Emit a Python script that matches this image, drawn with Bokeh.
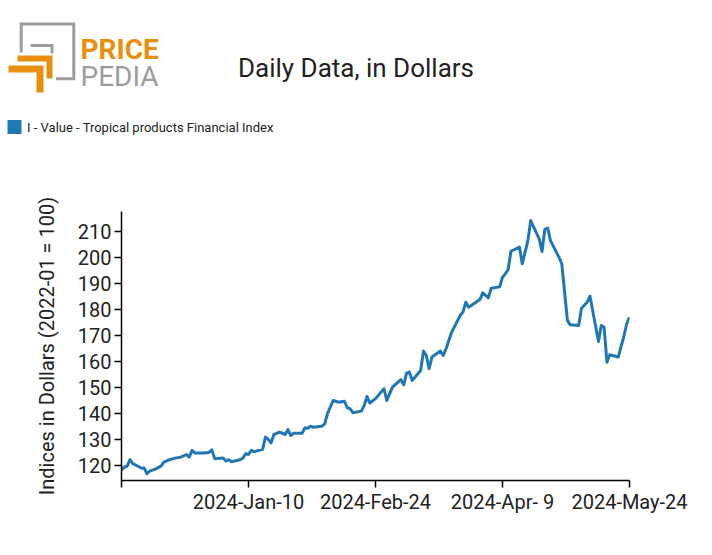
import pandas as pd
from bokeh.plotting import figure
from bokeh.layouts import column
from bokeh.models import Range1d, FixedTicker
from bokeh.core.properties import value
from bokeh.embed import file_html
from bokeh.resources import INLINE

# ---------------- data ----------------
dates = [
    "2023-11-26", "2023-11-27", "2023-11-28", "2023-11-29", "2023-11-30", "2023-12-02",
    "2023-12-03", "2023-12-04", "2023-12-05", "2023-12-06", "2023-12-08", "2023-12-10",
    "2023-12-11", "2023-12-13", "2023-12-15", "2023-12-17", "2023-12-19", "2023-12-20",
    "2023-12-21", "2023-12-22", "2023-12-25", "2023-12-27", "2023-12-28", "2023-12-29",
    "2024-01-01", "2024-01-02", "2024-01-03", "2024-01-04", "2024-01-07", "2024-01-08",
    "2024-01-09", "2024-01-10", "2024-01-11", "2024-01-12", "2024-01-15", "2024-01-16",
    "2024-01-17", "2024-01-18", "2024-01-19", "2024-01-21", "2024-01-23", "2024-01-24",
    "2024-01-25", "2024-01-26", "2024-01-29", "2024-01-30", "2024-01-31", "2024-02-01",
    "2024-02-02", "2024-02-05", "2024-02-06", "2024-02-07", "2024-02-09", "2024-02-11",
    "2024-02-13", "2024-02-14", "2024-02-15", "2024-02-16", "2024-02-19", "2024-02-20",
    "2024-02-21", "2024-02-22", "2024-02-24", "2024-02-27", "2024-02-28", "2024-03-01",
    "2024-03-04", "2024-03-05", "2024-03-06", "2024-03-07", "2024-03-08", "2024-03-11",
    "2024-03-12", "2024-03-13", "2024-03-14", "2024-03-15", "2024-03-18", "2024-03-19",
    "2024-03-20", "2024-03-22", "2024-03-25", "2024-03-26", "2024-03-27", "2024-03-28",
    "2024-04-01", "2024-04-02", "2024-04-04", "2024-04-05", "2024-04-08", "2024-04-09",
    "2024-04-10", "2024-04-11", "2024-04-12", "2024-04-15", "2024-04-16", "2024-04-18",
    "2024-04-19", "2024-04-22", "2024-04-23", "2024-04-24", "2024-04-25", "2024-04-26",
    "2024-04-29", "2024-04-30", "2024-05-02", "2024-05-03", "2024-05-06", "2024-05-07",
    "2024-05-09", "2024-05-10", "2024-05-13", "2024-05-14", "2024-05-15", "2024-05-16",
    "2024-05-17", "2024-05-20", "2024-05-22", "2024-05-23", "2024-05-24",
]
index_values = [
    118.1, 119.4, 119.7, 122.2, 120.7, 119.6,
    119.0, 119.0, 116.8, 117.8, 118.6, 119.7,
    121.3, 122.2, 122.8, 123.2, 124.2, 123.2,
    125.8, 124.8, 124.8, 125.0, 126.0, 122.6,
    122.9, 121.7, 122.2, 121.4, 122.2, 122.8,
    124.5, 124.2, 125.8, 125.3, 126.2, 130.9,
    130.0, 128.7, 131.9, 132.8, 131.9, 133.8,
    131.5, 132.4, 132.4, 134.5, 134.3, 135.1,
    134.7, 135.1, 136.0, 139.9, 145.0, 144.3,
    144.7, 142.2, 141.8, 140.3, 140.9, 143.1,
    146.5, 144.0, 145.7, 149.5, 145.0, 150.1,
    153.0, 151.0, 155.5, 155.9, 152.7, 156.5,
    164.0, 162.3, 157.2, 161.7, 164.0, 162.3,
    164.9, 171.3, 177.7, 179.0, 182.8, 180.9,
    183.8, 186.4, 184.5, 188.2, 188.7, 192.4,
    193.7, 195.4, 202.4, 204.0, 197.6, 206.5,
    214.2, 207.2, 202.3, 210.8, 211.3, 206.5,
    200.1, 197.6, 175.8, 174.1, 173.8, 180.5,
    182.8, 185.1, 167.7, 173.8, 173.2, 159.7,
    162.6, 161.7, 169.6, 174.5, 177.0,
]
series_name = "I - Value - Tropical products Financial Index"
title_text = "Daily Data, in Dollars"
y_axis_title = "Indices in Dollars (2022-01 = 100)"
tick_dates = ["2023-11-26", "2024-01-10", "2024-02-24", "2024-04-09", "2024-05-24"]
tick_labels = ["", "2024-Jan-10", "2024-Feb-24", "2024-Apr- 9", "2024-May-24"]
y_ticks = [120, 130, 140, 150, 160, 170, 180, 190, 200, 210]

# ---------------- styles ----------------
FONT = "Roboto"
LINE_COLOR = "#1f77b4"
ORANGE = "#E8900E"
GRAY = "#9c9c9c"
TEXT = "#222222"
W = 696
HEADER_H = 168
MAIN_H = 379

origin = pd.Timestamp(tick_dates[0])
x_days = [(pd.Timestamp(d) - origin).days for d in dates]
tick_x = [(pd.Timestamp(d) - origin).days for d in tick_dates]

# ---------------- header (logo, title, legend) ----------------
h = figure(width=W, height=HEADER_H, output_backend="svg", toolbar_location=None,
           x_range=Range1d(0, W), y_range=Range1d(HEADER_H, 0),
           min_border=0, min_border_left=0, min_border_right=0,
           min_border_top=0, min_border_bottom=0)
if "frame_align" in h.properties():
    h.frame_align = False
h.axis.visible = False
h.grid.visible = False
h.outline_line_color = None

# logo: gray frame and orange brackets
h.multi_line(xs=[[20.7, 20.7, 73.3, 73.3, 55.5], [30, 51.5, 51.5]],
             ys=[[52, 23.5, 23.5, 78.3, 78.3], [45, 45, 53]],
             line_color=GRAY, line_width=3, line_join="miter")
h.patches(xs=[[17, 52, 52, 46, 46, 17], [8, 43, 43, 36, 36, 8]],
          ys=[[55, 55, 78, 78, 61, 61], [65, 65, 92, 92, 72, 72]],
          fill_color=ORANGE, line_color=None)
h.text(x=[80], y=[49], text=["PRICE"], text_font=value(FONT), text_font_size="28px",
       text_font_style="bold", text_color=ORANGE, text_baseline="alphabetic")
h.text(x=[80], y=[75.5], text=["PEDIA"], text_font=value(FONT), text_font_size="28px",
       text_color=GRAY, text_baseline="alphabetic")

# title
h.text(x=[355.5], y=[67.7], text=[title_text], text_font=value(FONT), text_font_size="26px",
       text_color=TEXT, text_align="center", text_baseline="alphabetic")

# legend
h.quad(left=[7], right=[21], top=[119.5], bottom=[133.5], fill_color=LINE_COLOR, line_color=None)
h.text(x=[26.5], y=[126.5], text=[series_name], text_font=value(FONT), text_font_size="13px",
       text_color=TEXT, text_align="left", text_baseline="middle")

# ---------------- main chart ----------------
p = figure(width=W, height=MAIN_H, output_backend="svg", toolbar_location=None,
           x_range=Range1d(0, tick_x[-1]), y_range=Range1d(114.2, 217.7),
           min_border_left=121, min_border_right=67, min_border_top=43, min_border_bottom=67)
p.line(x_days, index_values, line_color=LINE_COLOR, line_width=3, line_join="round")

p.grid.visible = False
p.outline_line_color = None
p.background_fill_color = "white"

p.xaxis.ticker = FixedTicker(ticks=tick_x)
p.xaxis.major_label_overrides = {t: lab for t, lab in zip(tick_x, tick_labels)}
p.yaxis.ticker = FixedTicker(ticks=y_ticks)
p.yaxis.axis_label = y_axis_title

for ax in (p.xaxis[0], p.yaxis[0]):
    ax.axis_line_color = "black"
    ax.axis_line_width = 1.5
    ax.major_tick_line_color = "black"
    ax.major_tick_line_width = 1.5
    ax.major_tick_in = 0
    ax.major_tick_out = 7
    ax.minor_tick_line_color = None
    ax.major_label_text_font = FONT
    ax.major_label_text_font_size = "20px"
    ax.major_label_text_color = TEXT
    ax.axis_label_text_font = FONT
    ax.axis_label_text_font_size = "20px"
    ax.axis_label_text_font_style = "normal"
    ax.axis_label_text_color = TEXT

p.xaxis.major_label_standoff = 2
p.yaxis.major_label_standoff = 3
p.yaxis.axis_label_standoff = 16

layout = column(h, p, spacing=0)
open("out.html", "w").write(file_html(layout, INLINE))
